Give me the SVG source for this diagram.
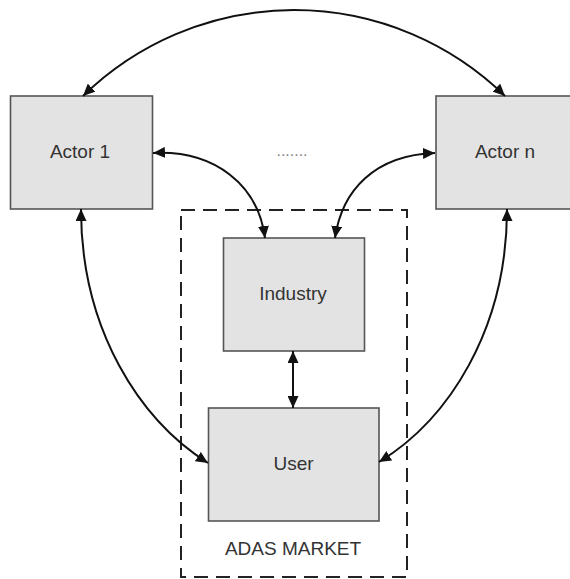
<svg xmlns="http://www.w3.org/2000/svg" width="570" height="579" viewBox="0 0 570 579">
  <defs>
    <marker id="arr" viewBox="0 0 12 11" refX="12" refY="5.5" markerWidth="12" markerHeight="11" markerUnits="userSpaceOnUse" orient="auto-start-reverse">
      <path d="M0,0 L12,5.5 L0,11 z" fill="#111"/>
    </marker>
    <style>
      .box { fill: #e3e3e3; stroke: #555; stroke-width: 1.6; }
      .lbl { font-family: "Liberation Sans", Arial, sans-serif; font-size: 19px; fill: #333; text-anchor: middle; }
      .con { fill: none; stroke: #111; stroke-width: 2; marker-start: url(#arr); marker-end: url(#arr); }
      .market { fill: none; stroke: #222; stroke-width: 2; stroke-dasharray: 14 8; }
    </style>
  </defs>
  <rect width="570" height="579" fill="#fff"/>

  <g id="adas-market">
    <rect class="market" x="181" y="210" width="226" height="367"/>
    <text class="lbl" x="293" y="555">ADAS MARKET</text>
  </g>

  <g id="actor1">
    <rect class="box" x="10.5" y="96" width="142" height="113"/>
    <text class="lbl" x="80" y="158">Actor 1</text>
  </g>

  <g id="actorn">
    <rect class="box" x="436" y="96" width="140" height="113"/>
    <text class="lbl" x="505" y="158">Actor n</text>
  </g>

  <g id="industry">
    <rect class="box" x="223.5" y="238" width="141" height="113"/>
    <text class="lbl" x="293" y="300">Industry</text>
  </g>

  <g id="user">
    <rect class="box" x="208.5" y="408" width="170.5" height="113"/>
    <text class="lbl" x="293.5" y="470">User</text>
  </g>

  <g id="ellipsis">
    <text x="292" y="156" font-family="Liberation Sans, Arial, sans-serif" font-size="16" fill="#888" text-anchor="middle">.......</text>
  </g>

  <g id="connectors">
    <path class="con" d="M83,96 A302,302 0 0 1 505,96"/>
    <path class="con" d="M153,153 C215,150 258,185 265,238"/>
    <path class="con" d="M435,153 C375,155 342,190 335,238"/>
    <path class="con" d="M81,209 C81,330 140,420 208,463"/>
    <path class="con" d="M507,209 C507,330 448,420 379,462"/>
    <path class="con" d="M293,351 L293,408"/>
  </g>
</svg>
